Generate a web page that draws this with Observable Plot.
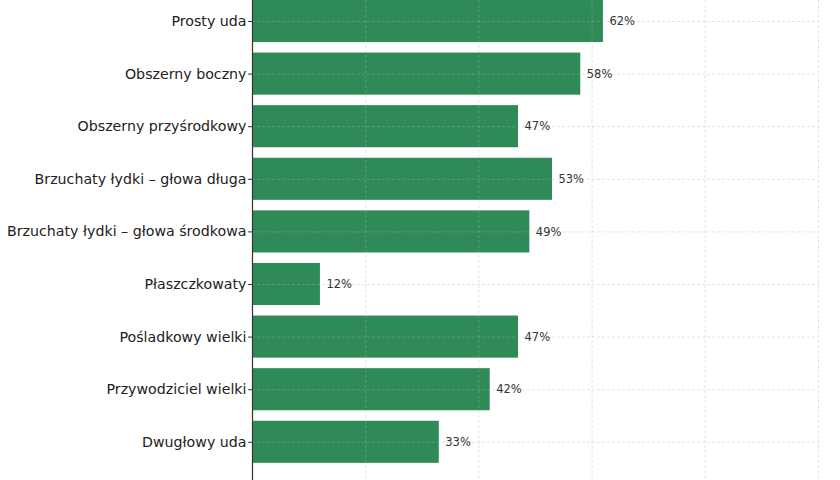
<!DOCTYPE html>
<html>
<head>
<meta charset="utf-8">
<script src="https://cdn.jsdelivr.net/npm/d3@7"></script>
<script src="https://cdn.jsdelivr.net/npm/@observablehq/plot@0.6"></script>
<style>
  html, body { margin: 0; padding: 0; background: #fff; }
  #chart svg { display: block; }
</style>
</head>
<body>
<div id="chart"></div>
<script>
const muscles = [
  "Prosty uda",
  "Obszerny boczny",
  "Obszerny przyśrodkowy",
  "Brzuchaty łydki – głowa długa",
  "Brzuchaty łydki – głowa środkowa",
  "Płaszczkowaty",
  "Pośladkowy wielki",
  "Przywodziciel wielki",
  "Dwugłowy uda"
];
const activation = [62, 58, 47, 53, 49, 12, 47, 42, 33];
const xTicks = [20, 40, 60, 80, 100];

const data = muscles.map((m, i) => ({muscle: m, value: activation[i]}));

const chart = Plot.plot({
  width: 840,
  height: 480,
  marginLeft: 252,
  marginRight: 22,
  marginTop: 0,
  marginBottom: 0,
  style: {fontFamily: "DejaVu Sans", background: "#fff"},
  x: {domain: [0, 100], axis: null},
  y: {domain: muscles, range: [-5.3, 468.1], paddingInner: 0.2, paddingOuter: 0.1, align: 0.5, round: false, axis: null},
  marks: [
    Plot.barX(data, {x: "value", y: "muscle", fill: "#2e8b57"}),
    Plot.gridX(xTicks, {stroke: "#b0b0b0", strokeOpacity: 0.45, strokeDasharray: "3,2", strokeWidth: 0.8}),
    Plot.gridY(muscles, {stroke: "#b0b0b0", strokeOpacity: 0.45, strokeDasharray: "3,2", strokeWidth: 0.8}),
    Plot.axisY({tickSize: 4, tickPadding: 2, fontSize: 14.2, stroke: "#333", color: "#222", label: null}),
    Plot.ruleX([0], {stroke: "#333", strokeWidth: 1.2}),
    Plot.text(data, {x: "value", y: "muscle", text: d => d.value + "%", textAnchor: "start", dx: 6, fontSize: 11.5, fill: "#333"})
  ]
});
document.getElementById("chart").appendChild(chart);
</script>
</body>
</html>
